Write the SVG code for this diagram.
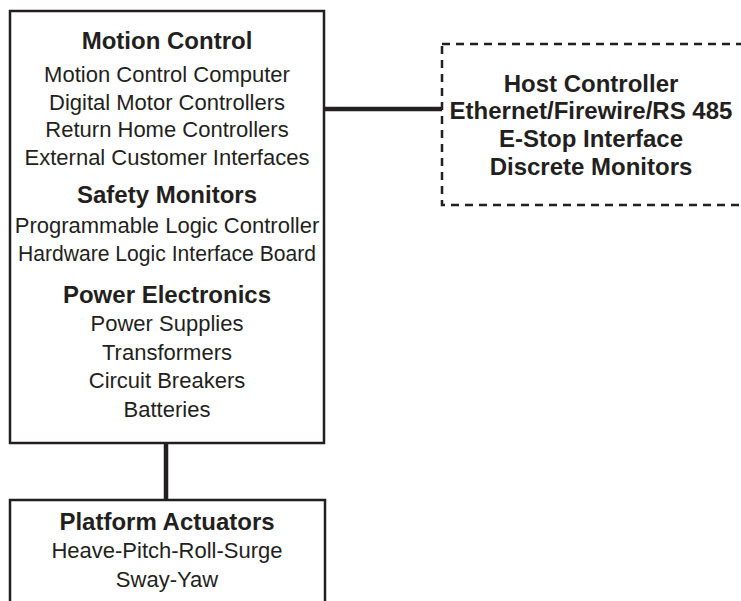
<svg xmlns="http://www.w3.org/2000/svg" width="741" height="601" viewBox="0 0 741 601">
<style>
.box{fill:#fff;stroke:#231f20;stroke-width:2.5}
.dash{fill:#fff;stroke:#231f20;stroke-width:2.5;stroke-dasharray:8 6}
.conn{stroke:#231f20;stroke-width:4.5;fill:none}
text{font-family:"Liberation Sans",Arial,sans-serif;fill:#231f20;text-anchor:middle}
.h{font-weight:bold;font-size:24px}
.r{font-size:22px}
</style>
<rect width="741" height="601" fill="#fff"/>
<g id="connectors">
<line class="conn" x1="324" y1="109" x2="442" y2="109"/>
<line class="conn" x1="166" y1="443" x2="166" y2="500"/>
</g>
<g id="main">
<rect class="box" x="10" y="11" width="314" height="432"/>
<text class="h" x="167" y="49">Motion Control</text>
<text class="r" x="167" y="82">Motion Control Computer</text>
<text class="r" x="167" y="110">Digital Motor Controllers</text>
<text class="r" x="167" y="137">Return Home Controllers</text>
<text class="r" x="167" y="165">External Customer Interfaces</text>
<text class="h" x="167" y="203">Safety Monitors</text>
<text class="r" x="167" y="233">Programmable Logic Controller</text>
<text class="r" x="167" y="261" textLength="298" lengthAdjust="spacingAndGlyphs">Hardware Logic Interface Board</text>
<text class="h" x="167" y="303">Power Electronics</text>
<text class="r" x="167" y="331">Power Supplies</text>
<text class="r" x="167" y="360">Transformers</text>
<text class="r" x="167" y="388">Circuit Breakers</text>
<text class="r" x="167" y="417">Batteries</text>
</g>
<g id="host">
<rect class="dash" x="442" y="44" width="320" height="161"/>
<text class="h" x="591" y="92">Host Controller</text>
<text class="h" x="591" y="119">Ethernet/Firewire/RS 485</text>
<text class="h" x="591" y="147">E-Stop Interface</text>
<text class="h" x="591" y="175">Discrete Monitors</text>
</g>
<g id="actuators">
<rect class="box" x="10" y="500" width="315" height="120"/>
<text class="h" x="167" y="530">Platform Actuators</text>
<text class="r" x="167" y="558">Heave-Pitch-Roll-Surge</text>
<text class="r" x="167" y="587">Sway-Yaw</text>
</g>
</svg>
